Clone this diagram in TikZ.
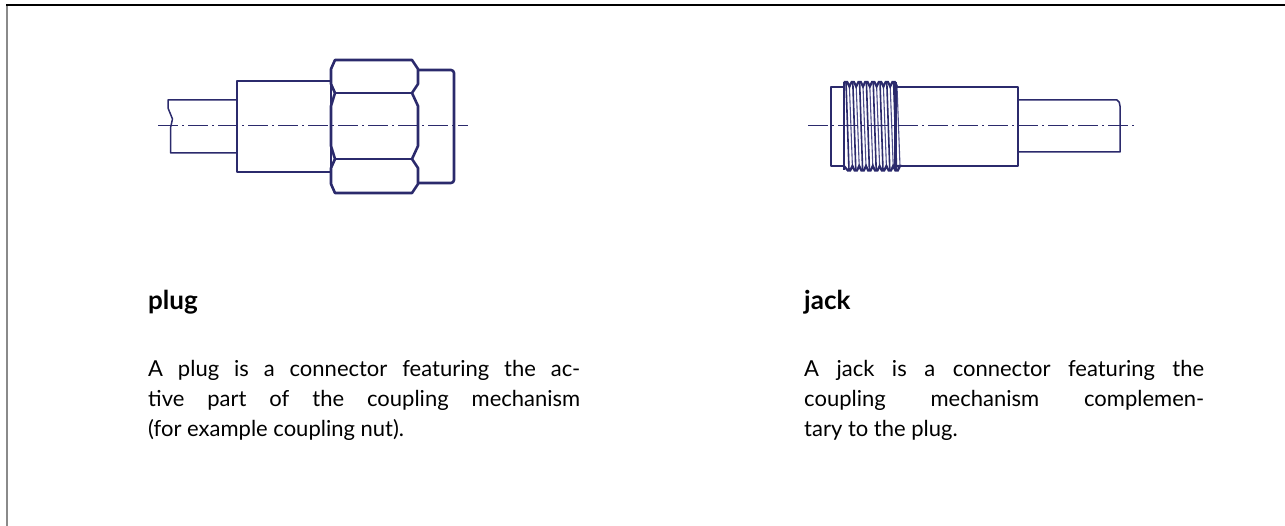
\documentclass[tikz,border=0pt]{standalone}
\usepackage{fontspec}
\setmainfont{Lato}
\definecolor{navy}{HTML}{2B2A6C}
\definecolor{navylight}{HTML}{4A4A88}
\definecolor{framegray}{HTML}{8A8A8A}
\tikzset{
  outline/.style={draw=navy, line width=2.6pt, line join=round},
  thinout/.style={draw=navy, line width=1.5pt, line join=round},
  centerl/.style={draw=navy, line width=1pt, dash pattern=on 20pt off 4pt on 2pt off 4pt},
  crest/.style={draw=navy, line width=1.6pt},
  root/.style={draw=navylight, line width=1.1pt},
  heading/.style={anchor=base west, inner sep=0pt, font=\fontsize{26}{30}\selectfont\bfseries},
  para/.style={anchor=base west, inner sep=0pt, align=left, font=\fontsize{22}{30}\selectfont},
}
\begin{document}
\begin{tikzpicture}[x=1pt, y=-1pt]
\useasboundingbox (0,0) rectangle (1285,526);
% frame
\draw[framegray, line width=2pt] (7,5) -- (7,526);
\draw[black, line width=1.6pt] (6,5) -- (1285,5);

% ===== plug =====
% cable
\draw[thinout] (237,100) -- (168,100) -- (168,108) -- (172.5,119) -- (170.5,128) -- (170.5,153) -- (237,153);
% body
\draw[outline] (237,81) rectangle (331,172);
% hex nut
\draw[outline] (335,60) -- (412,60) -- (418,69) -- (418,84) -- (412,93) -- (418,106) -- (418,146) -- (412,159) -- (418,168) -- (418,184) -- (412,193) -- (335,193) -- (331,184) -- (331,168) -- (335,159) -- (331,146) -- (331,106) -- (335,93) -- (331,84) -- (331,69) -- cycle;
\draw[outline] (335,93) -- (412,93);
\draw[outline] (335,159) -- (412,159);
% front ring
\draw[outline, rounded corners=3pt] (418,70) -- (454,70) -- (454,183) -- (418,183);
% centre line
\draw[centerl] (158,126) -- (468,126);

% ===== jack =====
% left ring
\draw[outline] (844,87) -- (831,87) -- (831,166) -- (844,166);
% thread
\foreach \k in {0,...,7} {
  \pgfmathsetmacro{\xc}{846+6.8*\k}
  \draw[root] (\xc+3.4,86) -- (\xc+6.4,166);
  \draw[crest] (\xc,82) -- (\xc+3,170);
}
\draw[crest, line width=2.2pt] (844,86.5)
  \foreach \k in {0,...,7} { -- ({846+6.8*\k-1.2},82) -- ({846+6.8*\k+1.2},82) -- ({846+6.8*\k+3.4},86.5) } -- (895,86.5);
\draw[crest, line width=2.2pt] (844,166)
  \foreach \k in {0,...,7} { -- ({849+6.8*\k-1.2},170.5) -- ({849+6.8*\k+1.2},170.5) -- ({849+6.8*\k+3.4},166) } -- (895,166);
\draw[outline] (844,82) -- (844,170);
\draw[outline, line width=3pt] (895,82) -- (895,170);
% body
\draw[outline] (895,87) -- (1018,87) -- (1018,166) -- (895,166);
% cable
\draw[thinout] (1018,100) -- (1117,100) .. controls (1119,101) and (1120,103) .. (1120,106) -- (1120,152) -- (1018,152);
% centre line
\draw[centerl] (808,126) -- (1137,126);

% ===== texts =====
\node[heading] (plughead) at (148,310) {plug};
\node[para] (plugtext) at (148,436) {\hbox to 432pt{A plug is a connector featuring the ac-}\\
\hbox to 432pt{tive part of the coupling mechanism}\\
(for example coupling nut).};
\node[heading] (jackhead) at (804,310) {jack};
\node[para] (jacktext) at (804,436) {\hbox to 400pt{A jack is a connector featuring the}\\
\hbox to 400pt{coupling mechanism complemen-}\\
tary to the plug.};
\end{tikzpicture}
\end{document}
